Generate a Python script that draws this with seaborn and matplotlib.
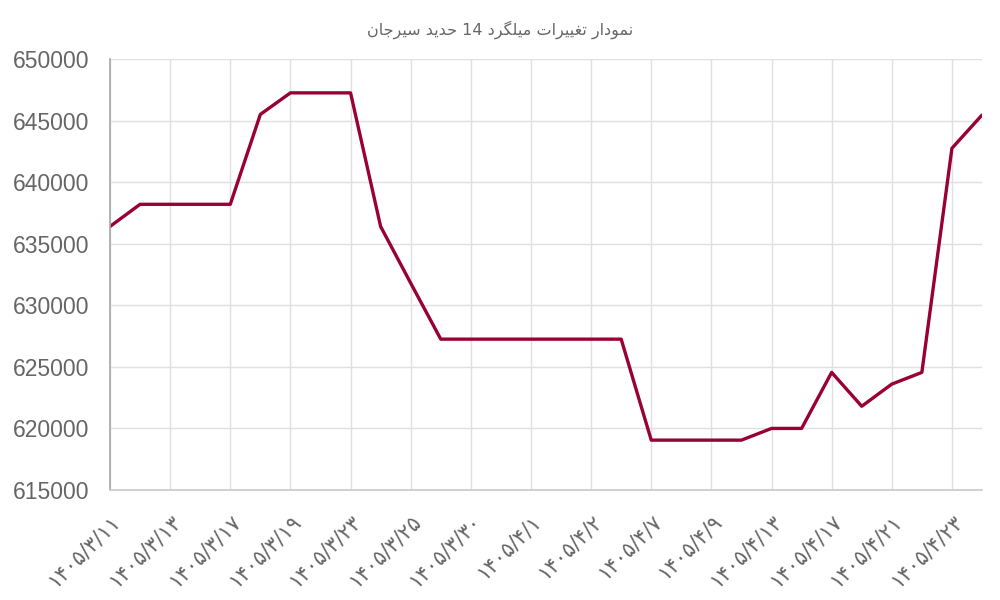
import matplotlib
matplotlib.use("Agg")
import matplotlib.pyplot as plt
import seaborn as sns
import pandas as pd

# ---------------- data ----------------
point_index = list(range(30))
prices = [636400, 638200, 638200, 638200, 638200, 645500, 647250, 647250, 647250, 636400,
          631800, 627250, 627250, 627250, 627250, 627250, 627250, 627250, 619050, 619050,
          619050, 619050, 620000, 620000, 624550, 621800, 623600, 624550, 642750, 645450]
tick_positions = list(range(0, 30, 2))
tick_labels = ["۱۴۰۵/۳/۱۱", "۱۴۰۵/۳/۱۳", "۱۴۰۵/۳/۱۷", "۱۴۰۵/۳/۱۹", "۱۴۰۵/۳/۲۳",
               "۱۴۰۵/۳/۲۵", "۱۴۰۵/۳/۳۰", "۱۴۰۵/۴/۱", "۱۴۰۵/۴/۲", "۱۴۰۵/۴/۷",
               "۱۴۰۵/۴/۹", "۱۴۰۵/۴/۱۳", "۱۴۰۵/۴/۱۷", "۱۴۰۵/۴/۲۱", "۱۴۰۵/۴/۲۳"]
title_text = "نمودار تغییرات میلگرد 14 حدید سیرجان"
y_ticks = [615000, 620000, 625000, 630000, 635000, 640000, 645000, 650000]

# ------------- simple Arabic/Persian shaping (matplotlib has no CTL) -------------
FORMS = {  # isolated, final, initial, medial
    "ا": ("\uFE8D", "\uFE8E", None, None),
    "ت": ("\uFE95", "\uFE96", "\uFE97", "\uFE98"),
    "ج": ("\uFE9D", "\uFE9E", "\uFE9F", "\uFEA0"),
    "ح": ("\uFEA1", "\uFEA2", "\uFEA3", "\uFEA4"),
    "د": ("\uFEA9", "\uFEAA", None, None),
    "ر": ("\uFEAD", "\uFEAE", None, None),
    "س": ("\uFEB1", "\uFEB2", "\uFEB3", "\uFEB4"),
    "غ": ("\uFECD", "\uFECE", "\uFECF", "\uFED0"),
    "ل": ("\uFEDD", "\uFEDE", "\uFEDF", "\uFEE0"),
    "م": ("\uFEE1", "\uFEE2", "\uFEE3", "\uFEE4"),
    "ن": ("\uFEE5", "\uFEE6", "\uFEE7", "\uFEE8"),
    "و": ("\uFEED", "\uFEEE", None, None),
    "ی": ("\uFBFC", "\uFBFD", "\uFBFE", "\uFBFF"),
    "گ": ("\uFB92", "\uFB93", "\uFB94", "\uFB95"),
}


def joins_next(ch):
    return ch in FORMS and FORMS[ch][2] is not None


def shape_word(word):
    out = []
    for i, ch in enumerate(word):
        if ch not in FORMS:
            out.append(ch)
            continue
        prev_join = i > 0 and joins_next(word[i - 1])
        next_join = i + 1 < len(word) and word[i + 1] in FORMS and joins_next(ch)
        iso, fin, ini, med = FORMS[ch]
        if prev_join and next_join:
            out.append(med)
        elif prev_join:
            out.append(fin)
        elif next_join:
            out.append(ini)
        else:
            out.append(iso)
    return "".join(out)


def visual_rtl(text):
    words = text.split(" ")
    vis = []
    for w in words:
        if w.isdigit():
            vis.append(w)
        else:
            vis.append(shape_word(w)[::-1])
    return " ".join(vis[::-1])


df = pd.DataFrame({"idx": point_index, "price": prices})

sns.set_theme(style="white")
plt.rcParams["font.family"] = ["Liberation Sans", "DejaVu Sans"]

fig = plt.figure(figsize=(10, 6), dpi=100)
ax = fig.add_axes([0.110, 1 - 490 / 600, 0.872, (490 - 59) / 600])

sns.lineplot(data=df, x="idx", y="price", ax=ax, color="#990033", linewidth=2.4)

ax.set_xlim(0, 29)
ax.set_ylim(615000, 650000)
ax.set_yticks(y_ticks)
ax.set_yticklabels([str(v) for v in y_ticks], fontsize=16.5, color="#666666")
ax.set_xticks(tick_positions)
ax.set_xticklabels(tick_labels, rotation=45, ha="right", rotation_mode="anchor",
                   fontsize=15, color="#666666", family=["DejaVu Sans"])
ax.set_xlabel("")
ax.set_ylabel("")

ax.grid(True, color="#e0e0e0", linewidth=1)
ax.tick_params(axis="y", length=14, color="#e0e0e0", width=1, pad=1)
ax.tick_params(axis="x", length=13, color="#e0e0e0", width=1, pad=2)
for side in ["top", "right"]:
    ax.spines[side].set_visible(False)
ax.spines["left"].set_color("#aaaaaa")
ax.spines["bottom"].set_color("#cccccc")

fig.text(0.5, 1 - 30 / 600, visual_rtl(title_text), ha="center", va="center",
         fontsize=11.5, color="#666666", family=["DejaVu Sans"])

fig.savefig("out.png", dpi=100)
